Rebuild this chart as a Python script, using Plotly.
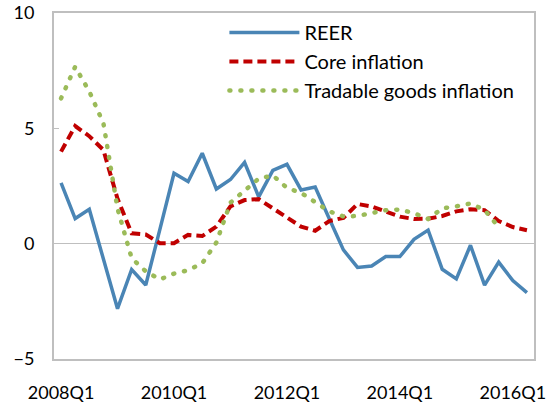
import plotly.graph_objects as go

quarters = [
    "2008Q1", "2008Q2", "2008Q3", "2008Q4",
    "2009Q1", "2009Q2", "2009Q3", "2009Q4",
    "2010Q1", "2010Q2", "2010Q3", "2010Q4",
    "2011Q1", "2011Q2", "2011Q3", "2011Q4",
    "2012Q1", "2012Q2", "2012Q3", "2012Q4",
    "2013Q1", "2013Q2", "2013Q3", "2013Q4",
    "2014Q1", "2014Q2", "2014Q3", "2014Q4",
    "2015Q1", "2015Q2", "2015Q3", "2015Q4",
    "2016Q1", "2016Q2",
]

reer = [2.64, 1.09, 1.49, -0.68, -2.82, -1.12, -1.79, 0.62,
        3.05, 2.69, 3.92, 2.37, 2.78, 3.52, 2.03, 3.18,
        3.44, 2.33, 2.46, 1.08, -0.27, -1.03, -0.97, -0.56,
        -0.56, 0.19, 0.59, -1.11, -1.53, -0.07, -1.80, -0.80,
        -1.60, -2.12]

core_inflation = [3.99, 5.10, 4.66, 4.06, 1.95, 0.45, 0.40, 0.02,
                  0.02, 0.38, 0.33, 0.74, 1.62, 1.89, 1.93, 1.52,
                  1.15, 0.74, 0.56, 0.98, 1.12, 1.72, 1.61, 1.39,
                  1.17, 1.07, 1.08, 1.20, 1.40, 1.49, 1.45, 0.98,
                  0.72, 0.58]

tradable_inflation = [6.30, 7.67, 6.60, 5.22, 1.52, -0.63, -1.20, -1.55,
                      -1.30, -1.15, -0.85, 0.05, 1.78, 2.33, 2.82, 2.96,
                      2.42, 2.20, 1.80, 1.40, 1.18, 1.20, 1.33, 1.45,
                      1.48, 1.32, 1.07, 1.53, 1.62, 1.74, 1.46, 0.72,
                      None, None]

x_tick_labels = ["2008Q1", "2010Q1", "2012Q1", "2014Q1", "2016Q1"]
y_tick_values = [-5, 0, 5, 10]

FONT = "Lato"

fig = go.Figure()
fig.add_trace(go.Scatter(
    x=quarters, y=reer, name="REER", mode="lines",
    line=dict(color="#4a85b5", width=3.5),
))
fig.add_trace(go.Scatter(
    x=quarters, y=core_inflation, name="Core inflation", mode="lines",
    line=dict(color="#c00000", width=4, dash="9px,5px"),
))
fig.add_trace(go.Scatter(
    x=quarters, y=tradable_inflation, name="Tradable goods inflation", mode="lines",
    line=dict(color="#9bbb59", width=4.5, dash="1px,10px"),
    connectgaps=False,
))

fig.update_layout(
    width=552, height=402,
    margin=dict(l=54, r=18, t=13, b=43, autoexpand=False),
    paper_bgcolor="white", plot_bgcolor="white",
    font=dict(family=FONT, size=18, color="#000000"),
    showlegend=True,
    legend=dict(
        x=0.355, y=1.0, xanchor="left", yanchor="top",
        bgcolor="rgba(0,0,0,0)", borderwidth=0,
        font=dict(family=FONT, size=20, color="#000000"),
        itemwidth=70,
    ),
    xaxis=dict(
        type="category", automargin=False,
        range=[-0.5, len(quarters) - 0.5],
        tickvals=x_tick_labels, ticktext=x_tick_labels,
        showgrid=False, zeroline=False,
        showline=True, linecolor="#bfbfbf", linewidth=2, mirror=True,
        ticks="", ticklabelstandoff=16,
        tickfont=dict(family=FONT, size=18, color="#000000"),
    ),
    yaxis=dict(
        range=[-5, 10], tickvals=y_tick_values, automargin=False,
        showgrid=False,
        zeroline=True, zerolinecolor="#bfbfbf", zerolinewidth=1.5,
        showline=True, linecolor="#bfbfbf", linewidth=2, mirror=True,
        ticks="inside", ticklen=5, tickcolor="#bfbfbf", tickwidth=1.5,
        ticklabelstandoff=14,
        tickfont=dict(family=FONT, size=18, color="#000000"),
    ),
)

post = """
document.body.style.margin = '0';
document.body.style.padding = '0';
var st = document.createElement('style');
st.innerHTML = '.scatterlayer .trace:nth-child(3) .js-line {stroke-linecap: round;} .legend .traces:nth-child(3) .js-line {stroke-linecap: round;}';
document.head.appendChild(st);
"""

fig.write_html("out.html", post_script=post,
               config={"displayModeBar": False, "staticPlot": True})
